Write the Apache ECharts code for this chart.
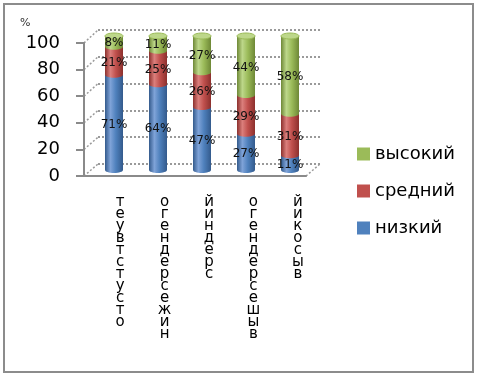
<!DOCTYPE html>
<html>
<head>
<meta charset="utf-8">
<script src="https://cdn.jsdelivr.net/npm/echarts@6/dist/echarts.min.js"></script>
<style>
  html, body { margin: 0; padding: 0; background: #fff; }
  #chart { width: 477px; height: 376px; }
</style>
</head>
<body>
<div id="chart"></div>
<script>
// categories as written in the source sheet (shown reversed, letter per line)
const categories = ["отсутствует", "ниже среднего", "средний", "выше среднего", "высокий"];
const seriesNames = ["низкий", "средний", "высокий"];
const low = [71, 64, 47, 27, 11];
const mid = [21, 25, 26, 29, 31];
const high = [8, 11, 27, 44, 58];
const yTicks = [0, 20, 40, 60, 80, 100];

const values = [low, mid, high];
const palette = [
  { base: "#4F81BD", light: "#7FA3D8", dark: "#335A8C" },
  { base: "#C0504D", light: "#DB7F7C", dark: "#8C302D" },
  { base: "#9BBB59", light: "#BDD78A", dark: "#6E8836" }
];

// three stacked planes to fake the 3D look: back wall, bars, front axis
const back = { left: 98, top: 30, width: 222, height: 134 };
const mid3d = { left: 92, top: 36, width: 220, height: 134 };
const front = { left: 84, top: 43, width: 222, height: 133 };
const barW = 18;

const chart = echarts.init(document.getElementById("chart"));

function vertical(name) {
  return name.replace(/ /g, "").split("").reverse().join("\n");
}

function cylinder(k) {
  const col = palette[k];
  const grad = new echarts.graphic.LinearGradient(0, 0, 1, 0, [
    { offset: 0, color: col.dark },
    { offset: 0.3, color: col.light },
    { offset: 0.6, color: col.base },
    { offset: 1, color: col.dark }
  ]);
  return function (params, api) {
    const cat = api.value(0);
    const s = api.value(1);
    const e = api.value(2);
    const top = api.coord([cat, e]);
    const bot = api.coord([cat, s]);
    const rx = barW / 2, ry = 3;
    const kids = [
      { type: "rect", shape: { x: top[0] - rx, y: top[1], width: barW, height: bot[1] - top[1] }, style: { fill: grad } },
      { type: "ellipse", shape: { cx: bot[0], cy: bot[1], rx: rx, ry: ry }, style: { fill: grad } }
    ];
    if (k === values.length - 1) {
      kids.push({ type: "ellipse", shape: { cx: top[0], cy: top[1], rx: rx, ry: ry }, style: { fill: col.light, stroke: col.base, lineWidth: 1 } });
    }
    kids.push({
      type: "text", z2: 100,
      style: {
        text: Math.round(e - s) + "%", x: top[0], y: (top[1] + bot[1]) / 2 + 2,
        align: "center", verticalAlign: "middle",
        fontSize: 12, fontFamily: "DejaVu Sans", fill: "#111"
      }
    });
    return { type: "group", children: kids };
  };
}

const series = values.map(function (arr, k) {
  const data = categories.map(function (c, i) {
    let start = 0;
    for (let j = 0; j < k; j++) start += values[j][i];
    return [i, start, start + arr[i]];
  });
  return {
    name: seriesNames[k],
    type: "custom",
    xAxisIndex: 1, yAxisIndex: 1,
    itemStyle: { color: palette[k].base },
    renderItem: cylinder(k),
    data: data
  };
});

const gray = "#8a8a8a";

chart.setOption({
  animation: false,
  title: { text: "%", left: 15, top: 13, textStyle: { fontSize: 11, fontWeight: "normal", color: "#333", fontFamily: "DejaVu Sans" } },
  legend: {
    orient: "vertical", left: 352, top: 140,
    data: ["высокий", "средний", "низкий"],
    icon: "rect", itemWidth: 13, itemHeight: 13, itemGap: 19,
    textStyle: { fontSize: 18, fontFamily: "DejaVu Sans", color: "#000" }
  },
  grid: [
    Object.assign({}, back),
    Object.assign({}, mid3d),
    Object.assign({}, front)
  ],
  xAxis: [
    {
      gridIndex: 0, type: "category", data: categories,
      axisLine: { show: false }, axisTick: { show: false },
      axisLabel: {
        margin: 32, interval: 0, verticalAlign: "top",
        fontSize: 15, lineHeight: 12, fontFamily: "DejaVu Sans", color: "#000",
        formatter: vertical
      }
    },
    { gridIndex: 1, type: "category", data: categories, show: false },
    {
      gridIndex: 2, type: "category", data: categories,
      axisLine: { lineStyle: { color: gray, width: 2 } },
      axisTick: { length: 9, lineStyle: { color: gray, width: 2 } },
      axisLabel: { show: false }
    }
  ],
  yAxis: [
    {
      gridIndex: 0, type: "value", min: 0, max: 100, interval: 20,
      axisLine: { show: false }, axisTick: { show: false }, axisLabel: { show: false },
      splitLine: { lineStyle: { color: "#9a9a9a", type: [2, 2], width: 2 } }
    },
    { gridIndex: 1, type: "value", min: 0, max: 100, show: false, splitLine: { show: false } },
    {
      gridIndex: 2, type: "value", min: 0, max: 100, interval: 20,
      axisLine: { show: true, lineStyle: { color: gray, width: 2 } },
      axisTick: { show: true, length: 8, lineStyle: { color: gray, width: 2 } },
      axisLabel: { margin: 24, fontSize: 18, fontFamily: "DejaVu Sans", color: "#000" },
      splitLine: { show: false }
    }
  ],
  series: series
});

// connect front ticks to the back wall, plus the outer frame
const deco = [];
yTicks.forEach(function (v) {
  const yf = chart.convertToPixel({ yAxisIndex: 2 }, v);
  const yb = chart.convertToPixel({ yAxisIndex: 0 }, v);
  deco.push({
    type: "line", silent: true,
    shape: { x1: front.left, y1: yf, x2: back.left, y2: yb },
    style: { stroke: "#9a9a9a", lineWidth: 1.5, lineDash: [2, 2] }
  });
});
deco.push({
  type: "line", silent: true,
  shape: {
    x1: front.left + front.width, y1: chart.convertToPixel({ yAxisIndex: 2 }, 0),
    x2: back.left + back.width, y2: chart.convertToPixel({ yAxisIndex: 0 }, 0)
  },
  style: { stroke: "#9a9a9a", lineWidth: 1.5, lineDash: [2, 2] }
});
deco.push({
  type: "rect", silent: true,
  shape: { x: 4, y: 4, width: 469, height: 368 },
  style: { fill: null, stroke: "#8c8c8c", lineWidth: 2 }
});
chart.setOption({ graphic: deco });
</script>
</body>
</html>
